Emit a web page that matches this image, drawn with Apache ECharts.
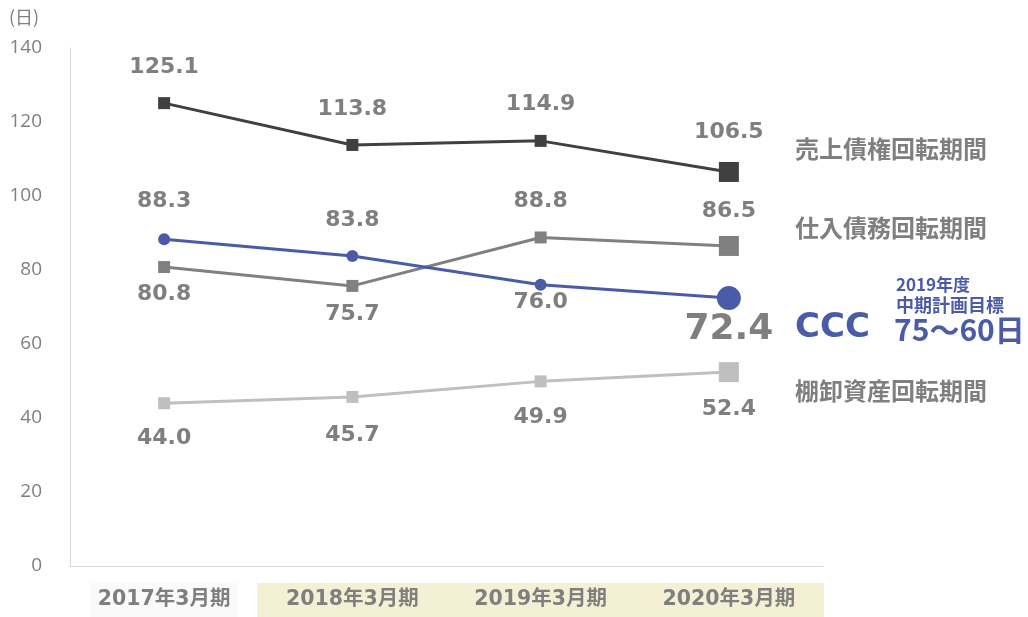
<!DOCTYPE html>
<html><head><meta charset="utf-8">
<script src="https://cdn.jsdelivr.net/npm/echarts@6/dist/echarts.min.js"></script>
<style>html,body{margin:0;padding:0;background:#fff}#c{width:1028px;height:617px}</style>
</head><body><div id="c"></div>
<script>
const categories = ['2017年3月期','2018年3月期','2019年3月期','2020年3月期'];
const receivables = [125.1, 113.8, 114.9, 106.5];   // 売上債権回転期間
const payables    = [80.8, 75.7, 88.8, 86.5];       // 仕入債務回転期間
const ccc         = [88.3, 83.8, 76.0, 72.4];       // CCC
const inventory   = [44.0, 45.7, 49.9, 52.4];       // 棚卸資産回転期間
const yTicks = [0,20,40,60,80,100,120,140];

const numFont = 'DejaVu Sans';
const jpFont = '"Noto Sans CJK JP"';
const mixFont = '"DejaVu Sans", "Noto Sans CJK JP"';
const labelGray = '#7f7f7f';
const blue = '#4a5ca8';

function build(values, pos, dist, sizes, fontSizes) {
  return values.map((v, i) => ({
    value: v,
    symbolSize: sizes[i],
    label: { position: pos[i], distance: dist[i], fontSize: fontSizes ? fontSizes[i] : 22 }
  }));
}
const baseLabel = {
  show: true, color: labelGray, fontWeight: 'bold', fontFamily: numFont,
  formatter: p => Number(p.value).toFixed(1)
};

const chart = echarts.init(document.getElementById('c'));
chart.setOption({
  animation: false,
  grid: { left: 70, right: 205, top: 48, bottom: 51 },
  xAxis: {
    type: 'category', data: categories, boundaryGap: true,
    axisLine: { lineStyle: { color: '#d9d9d9', width: 1 } },
    axisTick: { show: false },
    axisLabel: {
      margin: 17, interval: 0,
      formatter: (val, idx) => idx === 0 ? '{a|' + val + '}' : '{b|' + val + '}',
      rich: {
        a: { width: 148, height: 34, align: 'center', color: labelGray, fontSize: 20.5, fontWeight: 'bold', fontFamily: mixFont, backgroundColor: '#fafafa' },
        b: { width: 190, height: 34, align: 'center', color: labelGray, fontSize: 20.5, fontWeight: 'bold', fontFamily: mixFont, backgroundColor: '#f4f0d3' }
      }
    }
  },
  yAxis: {
    type: 'value', min: 0, max: 140, interval: 20,
    axisLine: { show: true, lineStyle: { color: '#d9d9d9' } },
    axisTick: { show: false }, splitLine: { show: false },
    axisLabel: { margin: 28, color: '#7f7f7f', fontSize: 19, fontFamily: 'Open Sans',
      formatter: v => yTicks.includes(v) ? String(v) : '' }
  },
  series: [
    { name: '棚卸資産回転期間', type: 'line', symbol: 'rect',
      lineStyle: { color: '#bfbfbf', width: 3 }, itemStyle: { color: '#bfbfbf' },
      label: baseLabel,
      data: build(inventory, ['bottom','bottom','bottom','bottom'], [18,21,19,16], [12,12,12,20]) },
    { name: '仕入債務回転期間', type: 'line', symbol: 'rect',
      lineStyle: { color: '#808080', width: 3 }, itemStyle: { color: '#808080' },
      label: baseLabel,
      data: build(payables, ['bottom','bottom','top','top'], [10,11,19,14], [12,12,12,20]) },
    { name: '売上債権回転期間', type: 'line', symbol: 'rect',
      lineStyle: { color: '#404040', width: 3 }, itemStyle: { color: '#404040' },
      label: baseLabel,
      data: build(receivables, ['top','top','top','top'], [19,19,20,19], [12,12,12,20]) },
    { name: 'CCC', type: 'line', symbol: 'circle',
      lineStyle: { color: blue, width: 3 }, itemStyle: { color: blue },
      label: baseLabel,
      data: build(ccc, ['top','top','bottom','bottom'], [21,19,0,2], [12,12,12,24], [22,22,22,36]) }
  ],
  graphic: [
    { type: 'text', left: 9, top: 8, style: { text: '(日)', fill: '#7f7f7f', fontSize: 18, fontFamily: jpFont } },
    { type: 'text', left: 795, top: 137, style: { text: '売上債権回転期間', fill: labelGray, fontSize: 24, fontWeight: 'bold', fontFamily: jpFont } },
    { type: 'text', left: 795, top: 216, style: { text: '仕入債務回転期間', fill: labelGray, fontSize: 24, fontWeight: 'bold', fontFamily: jpFont } },
    { type: 'text', left: 795, top: 311, style: { text: 'CCC', fill: blue, fontSize: 34, fontWeight: 'bold', fontFamily: numFont } },
    { type: 'text', left: 896, top: 276, style: { text: '2019年度', fill: blue, fontSize: 17, fontWeight: 'bold', fontFamily: jpFont } },
    { type: 'text', left: 896, top: 296, style: { text: '中期計画目標', fill: blue, fontSize: 18, fontWeight: 'bold', fontFamily: jpFont } },
    { type: 'text', left: 894, top: 315, style: { text: '75〜60日', fill: blue, fontSize: 30, fontWeight: 'bold', fontFamily: jpFont } },
    { type: 'text', left: 795, top: 379, style: { text: '棚卸資産回転期間', fill: labelGray, fontSize: 24, fontWeight: 'bold', fontFamily: jpFont } }
  ]
});
</script></body></html>
